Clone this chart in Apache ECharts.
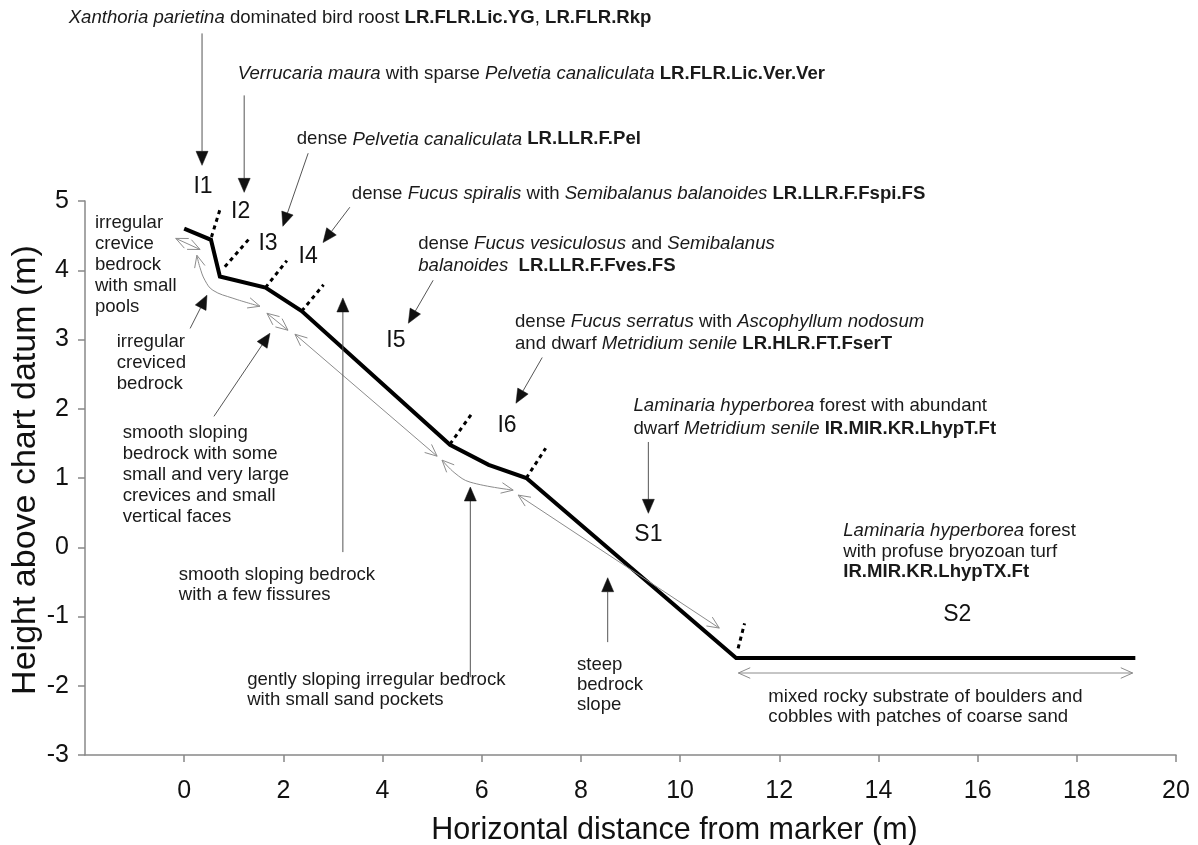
<!DOCTYPE html>
<html>
<head>
<meta charset="utf-8">
<script src="https://cdn.jsdelivr.net/npm/echarts@6/dist/echarts.min.js"></script>
<style>html,body{margin:0;padding:0;background:#fff}#c{width:1198px;height:845px}</style>
</head>
<body>
<div id="c"></div>
<script>
// ---------------- DATA ----------------
const xTickValues = [0, 2, 4, 6, 8, 10, 12, 14, 16, 18, 20];
const yTickValues = [-3, -2, -1, 0, 1, 2, 3, 4, 5];

// shore profile: horizontal distance (m) and height above chart datum (m)
const profileX = [0, 0.54, 0.72, 1.64, 2.37, 5.36, 6.14, 6.90, 11.13, 19.18];
const profileY = [4.60, 4.44, 3.91, 3.75, 3.41, 1.48, 1.19, 1.00, -1.60, -1.60];

// zone boundaries (dotted ticks): start on profile, end
const boundaryX0 = [0.55, 0.82, 1.64, 2.37, 5.36, 6.90, 11.17];
const boundaryY0 = [4.48, 4.05, 3.75, 3.41, 1.49, 1.00, -1.46];
const boundaryX1 = [0.74, 1.33, 2.07, 2.81, 5.80, 7.29, 11.30];
const boundaryY1 = [4.92, 4.47, 4.14, 3.79, 1.93, 1.43, -1.10];

// zone names and label anchors (data units)
const zoneNames = ['I1', 'I2', 'I3', 'I4', 'I5', 'I6', 'S1', 'S2'];
const zoneX = [0.38, 1.14, 1.69, 2.50, 4.27, 6.51, 9.36, 15.59];
const zoneY = [5.21, 4.85, 4.39, 4.19, 2.99, 1.76, 0.175, -0.98];

// biotope annotations
const biotopeTexts = [
  '{i|Xanthoria parietina} dominated bird roost {b|LR.FLR.Lic.YG}, {b|LR.FLR.Rkp}',
  '{i|Verrucaria maura} with sparse {i|Pelvetia canaliculata} {b|LR.FLR.Lic.Ver.Ver}',
  'dense {i|Pelvetia canaliculata} {b|LR.LLR.F.Pel}',
  'dense {i|Fucus spiralis} with {i|Semibalanus balanoides} {b|LR.LLR.F.Fspi.FS}',
  'dense {i|Fucus vesiculosus} and {i|Semibalanus}\n{i|balanoides}  {b|LR.LLR.F.Fves.FS}',
  'dense {i|Fucus serratus} with {i|Ascophyllum nodosum}\nand dwarf {i|Metridium senile} {b|LR.HLR.FT.FserT}',
  '{i|Laminaria hyperborea} forest with abundant\ndwarf {i|Metridium senile} {b|IR.MIR.KR.LhypT.Ft}',
  '{i|Laminaria hyperborea} forest\nwith profuse bryozoan turf\n{b|IR.MIR.KR.LhypTX.Ft}'
];
const biotopeX = [-2.33, 1.08, 2.27, 3.38, 4.72, 6.67, 9.06, 13.29];
const biotopeY = [7.64, 6.83, 5.89, 5.11, 4.375, 3.25, 2.04, 0.233];
const biotopeLH = [21, 21, 21, 21, 22, 22, 23, 20.5];
// biotope arrows: from -> tip (data units)
const bArrowFrom = [[0.36, 7.42], [1.21, 6.525], [2.50, 5.69], [3.34, 4.91], [5.02, 3.855], [7.22, 2.74], [9.36, 1.52]];
const bArrowTip  = [[0.36, 5.515], [1.21, 5.125], [1.99, 4.635], [2.80, 4.40], [4.52, 3.235], [6.69, 2.08], [9.36, 0.49]];

// substrate annotations
const substrateTexts = [
  'irregular\ncrevice\nbedrock\nwith small\npools',
  'irregular\ncreviced\nbedrock',
  'smooth sloping\nbedrock with some\nsmall and very large\ncrevices and small\nvertical faces',
  'smooth sloping bedrock\nwith a few fissures',
  'gently sloping irregular bedrock\nwith small sand pockets',
  'steep\nbedrock\nslope',
  'mixed rocky substrate of boulders and\ncobbles with patches of coarse sand'
];
const substrateX = [-1.80, -1.36, -1.24, -0.11, 1.27, 7.92, 11.78];
const substrateY = [4.68, 2.96, 1.647, -0.40, -1.917, -1.70, -2.16];
const substrateLH = [21, 20.7, 21, 20, 20, 20, 20];
// substrate pointer arrows: from -> tip
const sArrowFrom = [[0.12, 3.16], [0.60, 1.89], [3.20, -0.07], [5.77, -1.875], [8.54, -1.37]];
const sArrowTip  = [[0.46, 3.64], [1.73, 3.09], [3.20, 3.60], [5.77, 0.87], [8.54, -0.44]];
// substrate extent (grey double arrows), polylines in data units
const extentLines = [
  [[-0.17, 4.46], [0.32, 4.30]],
  [[0.256, 4.216], [0.317, 4.043], [0.418, 3.856], [0.579, 3.711], [0.983, 3.596], [1.528, 3.48]],
  [[1.669, 3.379], [2.093, 3.134]],
  [[2.234, 3.076], [5.10, 1.315]],
  [[5.20, 1.258], [5.46, 1.07], [5.766, 0.94], [6.634, 0.825]],
  [[6.735, 0.753], [10.79, -1.167]],
  [[11.175, -1.816], [19.126, -1.816]]
];

// ---------------- CHART ----------------
const FONT = "'Liberation Sans', Arial, Helvetica, sans-serif";
const chart = echarts.init(document.getElementById('c'), null, {renderer: 'canvas'});

const series = [{
  type: 'line',
  data: profileX.map((x, i) => [x, profileY[i]]),
  symbol: 'none',
  lineStyle: {color: '#000', width: 4, join: 'miter'},
  z: 5,
  silent: true
}];
boundaryX0.forEach((x0, i) => {
  series.push({
    type: 'line',
    data: [[x0, boundaryY0[i]], [boundaryX1[i], boundaryY1[i]]],
    symbol: 'none',
    lineStyle: {color: '#000', width: 3, type: [4, 4], cap: 'butt'},
    z: 4,
    silent: true
  });
});

chart.setOption({
  animation: false,
  backgroundColor: '#fff',
  grid: {left: 85, right: 22, top: 201, bottom: 90, containLabel: false, outerBoundsMode: 'none'},
  xAxis: {
    type: 'value', min: -2, max: 20, interval: 2,
    name: 'Horizontal distance from marker (m)',
    nameLocation: 'middle', nameGap: 60, nameMoveOverlap: false,
    nameTextStyle: {fontFamily: FONT, fontSize: 30.5, color: '#111', padding: [0, 0, 0, 88]},
    axisLine: {show: true, onZero: false, lineStyle: {color: '#888', width: 1.5}},
    axisTick: {show: true, inside: false, length: 7, lineStyle: {color: '#888', width: 1.5}, customValues: xTickValues},
    axisLabel: {fontFamily: FONT, fontSize: 25, color: '#111', margin: 24, customValues: xTickValues},
    splitLine: {show: false}
  },
  yAxis: {
    type: 'value', min: -3, max: 5, interval: 1,
    name: 'Height above chart datum (m)',
    nameLocation: 'middle', nameGap: 42, nameRotate: 90, nameMoveOverlap: false,
    nameTextStyle: {fontFamily: FONT, fontSize: 34, color: '#111', padding: [0, 0, 0, 16]},
    axisLine: {show: true, onZero: false, lineStyle: {color: '#888', width: 1.5}},
    axisTick: {show: true, inside: false, length: 7, lineStyle: {color: '#888', width: 1.5}, customValues: yTickValues},
    axisLabel: {fontFamily: FONT, fontSize: 25, color: '#111', margin: 16, customValues: yTickValues},
    splitLine: {show: false}
  },
  series: series
});

// ---------------- ANNOTATIONS ----------------
const P = (pt) => chart.convertToPixel({seriesIndex: 0}, pt);
const els = [];
const ANN_SIZE = 18.6;

function richText(str, x, y, lh, size) {
  const p = P([x, y]);
  const base = {fontFamily: FONT, fontSize: size, fill: '#1a1a1a', lineHeight: lh};
  els.push({
    type: 'text', x: p[0], y: p[1] - lh / 2, z: 100, silent: true,
    style: Object.assign({}, base, {
      text: str, align: 'left', verticalAlign: 'top',
      rich: {
        i: Object.assign({}, base, {fontStyle: 'italic'}),
        b: Object.assign({}, base, {fontWeight: 'bold'})
      }
    })
  });
}
function blackArrow(from, tip) {
  const a = P(from), t = P(tip);
  const dx = a[0] - t[0], dy = a[1] - t[1], d = Math.hypot(dx, dy);
  const ux = dx / d, uy = dy / d, L = 14, hw = 6;
  const bx = t[0] + ux * L, by = t[1] + uy * L;
  els.push({type: 'line', z: 90, silent: true, shape: {x1: a[0], y1: a[1], x2: bx, y2: by},
    style: {stroke: '#555', lineWidth: 1}});
  els.push({type: 'polygon', z: 91, silent: true,
    shape: {points: [[t[0], t[1]], [bx - uy * hw, by + ux * hw], [bx + uy * hw, by - ux * hw]]},
    style: {fill: '#111', stroke: '#111', lineWidth: 0.5}});
}
function chevron(tip, from) {
  const dx = from[0] - tip[0], dy = from[1] - tip[1], d = Math.hypot(dx, dy);
  const ux = dx / d, uy = dy / d, L = 13, ang = 0.42;
  const c = Math.cos(ang), s = Math.sin(ang);
  const a = [tip[0] + L * (ux * c - uy * s), tip[1] + L * (ux * s + uy * c)];
  const b = [tip[0] + L * (ux * c + uy * s), tip[1] + L * (-ux * s + uy * c)];
  els.push({type: 'polyline', z: 80, silent: true, shape: {points: [a, tip, b]},
    style: {stroke: '#8c8c8c', lineWidth: 1, fill: null}});
}
function greyDouble(pts) {
  const px = pts.map(P);
  els.push({type: 'polyline', z: 80, silent: true, shape: {points: px, smooth: px.length > 2 ? 0.4 : 0},
    style: {stroke: '#8c8c8c', lineWidth: 1, fill: null}});
  chevron(px[0], px[1]);
  chevron(px[px.length - 1], px[px.length - 2]);
}

biotopeTexts.forEach((t, i) => richText(t, biotopeX[i], biotopeY[i], biotopeLH[i], ANN_SIZE));
substrateTexts.forEach((t, i) => richText(t, substrateX[i], substrateY[i], substrateLH[i], ANN_SIZE));
bArrowFrom.forEach((f, i) => blackArrow(f, bArrowTip[i]));
sArrowFrom.forEach((f, i) => blackArrow(f, sArrowTip[i]));
extentLines.forEach(greyDouble);
zoneNames.forEach((n, i) => {
  const p = P([zoneX[i], zoneY[i]]);
  els.push({type: 'text', x: p[0], y: p[1], z: 100, silent: true,
    style: {text: n, fontFamily: FONT, fontSize: 23, fill: '#111', align: 'center', verticalAlign: 'middle'}});
});

chart.setOption({graphic: {elements: els}});
</script>
</body>
</html>
